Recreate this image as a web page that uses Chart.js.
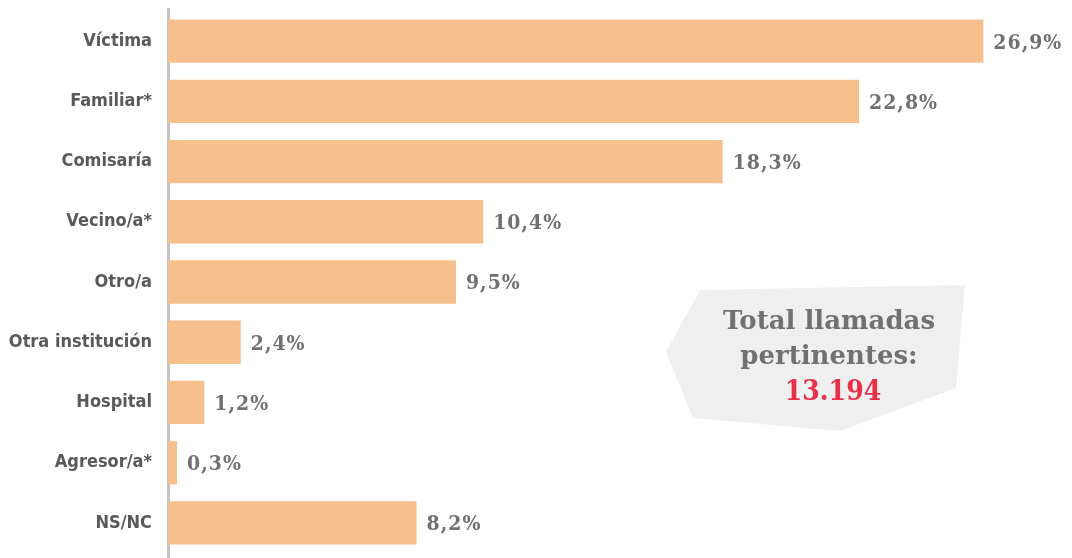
<!DOCTYPE html>
<html>
<head>
<meta charset="utf-8">
<script src="https://cdn.jsdelivr.net/npm/chart.js@4/dist/chart.umd.min.js"></script>
<style>
  html, body { margin: 0; padding: 0; background: #ffffff; }
  #wrap { width: 1072px; height: 558px; position: relative; }
</style>
</head>
<body>
<div id="wrap"><canvas id="chart"></canvas></div>
<script>
// datos
const categories = ['Víctima', 'Familiar*', 'Comisaría', 'Vecino/a*', 'Otro/a',
  'Otra institución', 'Hospital', 'Agresor/a*', 'NS/NC'];
const percentages = [26.9, 22.8, 18.3, 10.4, 9.5, 2.4, 1.2, 0.3, 8.2];
const totalLines = ['Total llamadas', 'pertinentes:'];
const totalValue = '13.194';

const BAR_COLOR = '#f5c08e';
const LABEL_COLOR = '#595959';
const VALUE_COLOR = '#707070';
const SLAB = '"DejaVu Serif Condensed", "DejaVu Serif", serif';

const fmt = v => v.toFixed(1).replace('.', ',') + '%';

// línea vertical del eje
const axisLine = {
  id: 'axisLine',
  beforeDatasetsDraw(chart) {
    const ctx = chart.ctx;
    const x = chart.chartArea.left;
    ctx.save();
    ctx.fillStyle = '#c4c4c4';
    ctx.fillRect(x - 1, 8, 3, chart.height - 8);
    ctx.restore();
  }
};

// etiquetas de valor al final de cada barra
const valueLabels = {
  id: 'valueLabels',
  afterDatasetsDraw(chart) {
    const ctx = chart.ctx;
    const meta = chart.getDatasetMeta(0);
    ctx.save();
    ctx.font = 'bold 21px ' + SLAB;
    ctx.letterSpacing = '1px';
    ctx.fillStyle = VALUE_COLOR;
    ctx.textAlign = 'left';
    ctx.textBaseline = 'middle';
    meta.data.forEach((bar, i) => {
      ctx.fillText(fmt(percentages[i]), bar.x + 10, bar.y + 2);
    });
    ctx.restore();
  }
};

// recuadro con el total
const totalBox = {
  id: 'totalBox',
  afterDraw(chart) {
    const ctx = chart.ctx;
    ctx.save();
    ctx.fillStyle = '#efefef';
    ctx.beginPath();
    ctx.moveTo(700, 290);
    ctx.lineTo(965, 285);
    ctx.lineTo(956, 388);
    ctx.lineTo(840, 431);
    ctx.lineTo(693, 418);
    ctx.lineTo(666, 352);
    ctx.closePath();
    ctx.fill();

    ctx.textAlign = 'center';
    ctx.textBaseline = 'middle';
    ctx.font = 'bold 26px "DejaVu Serif", serif';
    ctx.fillStyle = '#717171';
    ctx.fillText(totalLines[0], 829, 322);
    ctx.fillText(totalLines[1], 829, 357);
    ctx.fillStyle = '#e8304a';
    ctx.font = 'bold 28px ' + SLAB;
    ctx.fillText(totalValue, 833, 393);
    ctx.restore();
  }
};

new Chart(document.getElementById('chart'), {
  type: 'bar',
  data: {
    labels: categories,
    datasets: [{
      data: percentages,
      backgroundColor: BAR_COLOR,
      borderWidth: 0,
      categoryPercentage: 1,
      barPercentage: 0.72
    }]
  },
  options: {
    indexAxis: 'y',
    responsive: true,
    maintainAspectRatio: false,
    animation: false,
    layout: {
      padding: { top: 11, bottom: 5, right: 25, left: 0 }
    },
    plugins: {
      legend: { display: false },
      tooltip: { enabled: false }
    },
    scales: {
      x: {
        display: false,
        min: 0,
        max: 29
      },
      y: {
        grid: { display: false, drawTicks: false },
        border: { display: false },
        afterFit(scale) {
          scale.width = 168;
          scale.paddingTop = 0;
          scale.paddingBottom = 0;
        },
        ticks: {
          padding: 16,
          color: LABEL_COLOR,
          font: { family: '"DejaVu Sans Condensed", "DejaVu Sans", sans-serif', size: 18, weight: 'bold' }
        }
      }
    }
  },
  plugins: [axisLine, valueLabels, totalBox]
});
</script>
</body>
</html>
